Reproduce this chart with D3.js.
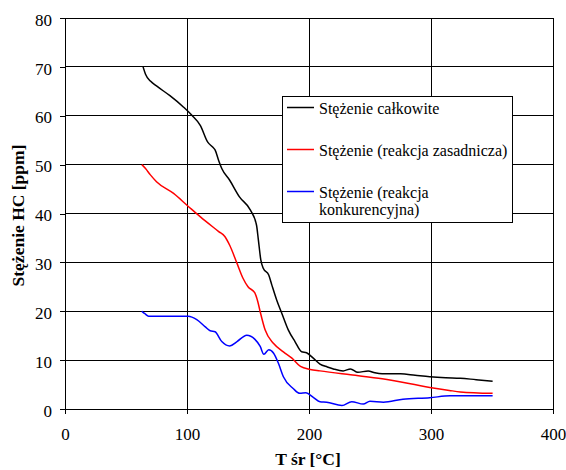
<!DOCTYPE html>
<html lang="pl">
<head>
<meta charset="UTF-8">
<title>Stężenie HC</title>
<script src="https://cdn.jsdelivr.net/npm/d3@7"></script>
<style>
  body { margin: 0; background: #fff; }
</style>
</head>
<body>
<div id="chart"></div>
<script>
// temperatures [°C] and concentrations [ppm]
const tTotal = [64, 66, 70, 75, 86, 97, 104, 111, 117, 121, 123, 126, 128.5, 135, 143, 152, 157, 158.5, 160.5, 162.5, 167, 169.5, 173.5, 178, 183, 188.5, 194, 198, 203.5, 209, 215, 220, 228, 234, 240, 248.5, 254, 260, 268, 275, 287, 299, 312, 324, 337, 350.5];
const cTotal = [70, 68.5, 67.1, 66.1, 64.1, 61.8, 60.1, 58, 54.6, 53.6, 53, 50.8, 49.2, 46.8, 43.4, 40.7, 37.6, 34.6, 30.5, 28.8, 27.4, 25.4, 22.3, 19.4, 16.2, 13.8, 11.7, 11.5, 10.4, 9.2, 8.6, 8.2, 7.8, 8.2, 7.5, 7.8, 7.4, 7.2, 7.2, 7.2, 6.9, 6.6, 6.4, 6.3, 6.0, 5.7];

const tMain = [63, 66, 70, 75, 89, 100, 111, 126, 131, 135, 141, 146, 150, 155.5, 158, 160, 164, 171, 179, 186, 193, 201, 209, 234, 260, 299, 315, 324, 350.5];
const cMain = [50, 49.2, 47.9, 46.5, 44.1, 41.7, 39.3, 36.3, 35.3, 33.5, 29.8, 26.7, 25, 23.8, 22, 19.9, 16.2, 13.4, 11.7, 10.4, 8.7, 8.1, 7.8, 7.0, 6.2, 4.4, 3.8, 3.5, 3.2];

const tCompet = [63, 65.5, 68.5, 101, 108, 115, 119, 123, 128.5, 135, 141, 149, 155.5, 160, 163, 167, 171, 175, 179, 187, 192.5, 197.5, 203.5, 209, 214.5, 227, 235, 244.5, 250, 261, 277, 299, 315.6, 330, 350.5];
const cCompet = [20, 19.5, 19, 19, 18.3, 16.8, 16, 15.8, 13.8, 12.9, 13.8, 15.1, 14.3, 12.8, 11.2, 12.1, 11.4, 9.3, 6.6, 4.2, 3.2, 3.3, 2.4, 1.5, 1.4, 0.7, 1.5, 1.0, 1.6, 1.4, 2.0, 2.3, 2.7, 2.7, 2.7];

const seriesNames = ["Stężenie całkowite", "Stężenie (reakcja zasadnicza)", "Stężenie (reakcja konkurencyjna)"];
const seriesColors = ["#000000", "#ff0000", "#0000ff"];
const xTicks = [0, 100, 200, 300, 400];
const yTicks = [0, 10, 20, 30, 40, 50, 60, 70, 80];

const font = "Liberation Serif";
const width = 566, height = 470;
const marginTop = 18, marginRight = 13, marginBottom = 61, marginLeft = 65;

const x = d3.scaleLinear().domain([0, 400]).range([marginLeft, width - marginRight]);
const y = d3.scaleLinear().domain([0, 80]).range([height - marginBottom, marginTop]);

const svg = d3.select("#chart").append("svg")
    .attr("width", width)
    .attr("height", height)
    .attr("font-family", font);

// grid
svg.append("g")
    .attr("stroke", "#000")
    .attr("shape-rendering", "crispEdges")
    .call(g => g.selectAll(".h").data(yTicks).join("line")
        .attr("x1", marginLeft).attr("x2", width - marginRight)
        .attr("y1", d => y(d)).attr("y2", d => y(d)))
    .call(g => g.selectAll(".v").data(xTicks).join("line")
        .attr("y1", marginTop).attr("y2", height - marginBottom)
        .attr("x1", d => x(d)).attr("x2", d => x(d)));

svg.append("g")
    .attr("transform", `translate(0,${height - marginBottom})`)
    .call(d3.axisBottom(x).tickValues(xTicks).tickSize(5).tickPadding(14))
    .call(g => g.select(".domain").remove())
    .call(g => g.selectAll("text")
        .attr("fill", "#000")
        .attr("font-family", font)
        .attr("font-size", 17))
    .call(g => g.selectAll("line").attr("shape-rendering", "crispEdges"));

svg.append("g")
    .attr("transform", `translate(${marginLeft},0)`)
    .call(d3.axisLeft(y).tickValues(yTicks).tickSize(5).tickPadding(8))
    .call(g => g.select(".domain").remove())
    .call(g => g.selectAll("text")
        .attr("fill", "#000")
        .attr("font-family", font)
        .attr("font-size", 17)
        .attr("dy", "0.42em"))
    .call(g => g.selectAll("line").attr("shape-rendering", "crispEdges"));

svg.append("text")
    .attr("x", 308)
    .attr("y", 465)
    .attr("text-anchor", "middle")
    .attr("font-family", font)
    .attr("font-weight", "bold")
    .attr("font-size", 17.5)
    .text("T śr [°C]");

svg.append("text")
    .attr("transform", `translate(24,${y(40) + 2}) rotate(-90)`)
    .attr("text-anchor", "middle")
    .attr("font-family", font)
    .attr("font-weight", "bold")
    .attr("font-size", 17.5)
    .text("Stężenie HC [ppm]");

const line = d3.line()
    .x(d => x(d[0]))
    .y(d => y(d[1]))
    .curve(d3.curveMonotoneX);

const series = [
    d3.zip(tTotal, cTotal),
    d3.zip(tMain, cMain),
    d3.zip(tCompet, cCompet)
];

svg.append("g")
    .attr("fill", "none")
    .attr("stroke-width", 1.5)
    .selectAll("path")
    .data(series)
    .join("path")
    .attr("stroke", (d, i) => seriesColors[i])
    .attr("d", line);

// legend
const legend = svg.append("g").attr("transform", "translate(282,96)");
legend.append("rect")
    .attr("x", 0.5).attr("y", 0.5)
    .attr("width", 230).attr("height", 126)
    .attr("fill", "#fff")
    .attr("stroke", "#000");

const rowY = [11.5, 53.5, 95.5];
seriesNames.forEach((name, i) => {
    legend.append("line")
        .attr("x1", 5).attr("x2", 32)
        .attr("y1", rowY[i]).attr("y2", rowY[i])
        .attr("stroke", seriesColors[i])
        .attr("stroke-width", 1.5);
    const words = i === 2 ? ["Stężenie (reakcja", "konkurencyjna)"] : [name];
    legend.append("text")
        .attr("x", 37)
        .attr("y", rowY[i] + 6.5)
        .attr("font-family", font)
        .attr("font-size", 16)
        .selectAll("tspan")
        .data(words)
        .join("tspan")
        .attr("x", 37)
        .attr("dy", (d, j) => j === 0 ? 0 : 17)
        .text(d => d);
});
</script>
</body>
</html>
